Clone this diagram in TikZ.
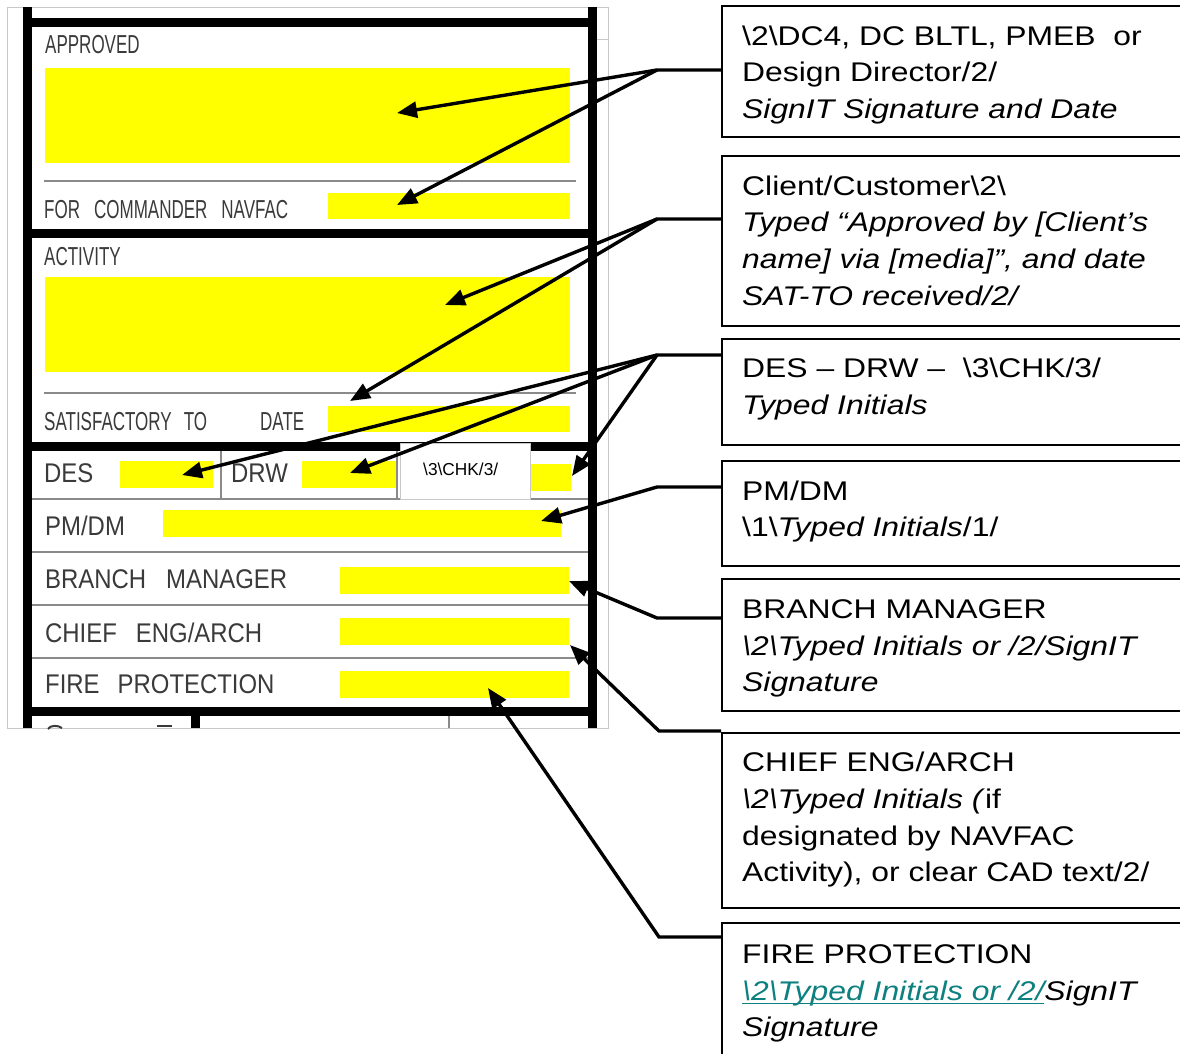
\documentclass[tikz,border=0pt]{standalone}
\usepackage{fontspec}
\setmainfont{Liberation Sans}
\newfontfamily\callfont[FakeStretch=1.18]{Liberation Sans}
\newfontfamily\cadup[FakeStretch=0.654]{Liberation Sans}
\newfontfamily\cadlow[FakeStretch=0.886]{Liberation Sans}
\usetikzlibrary{arrows.meta}
\definecolor{linkteal}{HTML}{0E8080}
\definecolor{cadtext}{HTML}{3A3A3A}
\definecolor{rowgray}{HTML}{8A8A8A}
\definecolor{framegray}{HTML}{C8C8C8}
\definecolor{fieldyellow}{HTML}{FFFF00}
\newcommand\tealul[1]{\leavevmode\setbox0=\hbox{#1}\rlap{\rule[-4.2pt]{\wd0}{1.5pt}}\box0}
\begin{document}
\begin{tikzpicture}[x=1pt,y=-1pt,
  field/.style={fill=fieldyellow, draw=none, inner sep=0pt, outer sep=0pt, anchor=north west},
  callbox/.style={draw=black, line width=2pt, inner sep=0pt, anchor=north west, minimum width=480pt},
  upl/.style={anchor=base west, inner sep=0pt, text=cadtext, font=\cadup\fontsize{26}{30}\selectfont},
  lowl/.style={anchor=base west, inner sep=0pt, text=cadtext, font=\cadlow\fontsize{27}{30}\selectfont},
  ctext/.style={anchor=base west, inner sep=0pt, font=\callfont\fontsize{27}{36.7}\selectfont},
  conn/.style={line width=3.4pt, line join=miter},
  arr/.style={conn, -{Triangle[length=20pt,width=16pt]}},
  thickln/.style={line width=9pt, line cap=butt},
  rowln/.style={line width=2pt, draw=rowgray},
  frameln/.style={line width=1pt, draw=framegray}]
\useasboundingbox (0,0) rectangle (1180,1053);
\fill[white] (0,0) rectangle (1180,1053);
\clip (0,0) rectangle (1180,1053);

% ---------- form frame ----------
\draw[frameln] (7,7) rectangle (608,728);
\draw[frameln] (597,39) -- (608,39);

% yellow fields
\node[field, minimum width=525pt, minimum height=95pt] (fAppr) at (45,68) {};
\node[field, minimum width=242pt, minimum height=26pt] (fCmdr) at (328,193) {};
\node[field, minimum width=525pt, minimum height=95pt] (fAct) at (45,277) {};
\node[field, minimum width=242pt, minimum height=26pt] (fDate) at (328,406) {};
\node[field, minimum width=93pt, minimum height=27pt] (fDes) at (120,461) {};
\node[field, minimum width=94pt, minimum height=27pt] (fDrw) at (302,461) {};
\node[field, minimum width=40pt, minimum height=27pt] (fChk) at (531,464) {};
\node[field, minimum width=398pt, minimum height=27pt] (fPm) at (163,510) {};
\node[field, minimum width=229pt, minimum height=27pt] (fBm) at (340,567) {};
\node[field, minimum width=229pt, minimum height=27pt] (fCe) at (340,618) {};
\node[field, minimum width=229pt, minimum height=27pt] (fFp) at (340,671) {};

% thin row lines
\draw[rowln] (44,181) -- (576,181);
\draw[rowln] (44,393) -- (576,393);
\draw[rowln] (31,499) -- (588,499);
\draw[rowln] (31,552) -- (588,552);
\draw[rowln] (31,605) -- (588,605);
\draw[rowln] (31,658) -- (588,658);
\draw[rowln] (221,446) -- (221,499);
\draw[rowln] (397,446) -- (397,499);
\draw[rowln] (449,711) -- (449,728);

% thick lines
\draw[thickln] (27,7) -- (27,728);
\draw[thickln] (592,7) -- (592,728);
\draw[thickln] (27,22) -- (592,22);
\draw[thickln] (27,233) -- (592,233);
\draw[thickln] (27,446) -- (592,446);
\draw[thickln] (27,711) -- (592,711);
\draw[thickln] (195,711) -- (195,728);

% clipped glyph tops at the bottom edge
\draw[line width=2pt, cadtext] (48,729) .. controls (50,725) and (58,725) .. (62,728);
\draw[line width=2pt, cadtext] (157,726) -- (172,726);

% form labels
\node[upl] (lApp) at (45,53) {APPROVED};
\node[upl] (lCmd) at (44,218) {FOR\hspace{14pt}COMMANDER\hspace{14pt}NAVFAC};
\node[upl] (lAct) at (44,265) {ACTIVITY};
\node[upl] (lSat) at (44,430) {SATISFACTORY\hspace{12pt}TO};
\node[upl] (lDat) at (260,430) {DATE};
\node[lowl] (lDes) at (44,482) {DES};
\node[lowl] (lDrw) at (231,482) {DRW};
\node[lowl] (lPm) at (45,535) {PM/DM};
\node[lowl] (lBm) at (45,588) {BRANCH\hspace{20pt}MANAGER};
\node[lowl] (lCe) at (45,642) {CHIEF\hspace{19pt}ENG/ARCH};
\node[lowl] (lFp) at (45,693) {FIRE\hspace{18pt}PROTECTION};

% white CHK box
\node[fill=white, draw=framegray, line width=0.8pt, inner sep=0pt, anchor=north west,
      minimum width=130pt, minimum height=56pt] (chkbox) at (400,443) {};
\node[anchor=base west, inner sep=0pt, font=\fontsize{17.3}{20}\selectfont] (chktext) at (423,475)
  {\textbackslash 3\textbackslash CHK/3/};

% ---------- callout boxes ----------
\node[callbox, minimum height=130.5pt] (b1) at (721,5) {};
\node[callbox, minimum height=170pt] (b2) at (721,155) {};
\node[callbox, minimum height=106pt] (b3) at (721,338) {};
\node[callbox, minimum height=105pt] (b4) at (721,460) {};
\node[callbox, minimum height=132pt] (b5) at (721,578) {};
\node[callbox, minimum height=175pt] (b6) at (721,732) {};
\node[callbox, minimum height=200pt] (b7) at (721,922) {};

\node[ctext] (c1a) at (742,45) {\textbackslash 2\textbackslash DC4, DC BLTL, PMEB\ \ or};
\node[ctext] (c1b) at (742,81.7) {Design Director/2/};
\node[ctext] (c1c) at (742,118.3) {\itshape SignIT Signature and Date};

\node[ctext] (c2a) at (742,195) {Client/Customer\textbackslash 2\textbackslash};
\node[ctext] (c2b) at (742,231.7) {\itshape Typed “Approved by [Client’s};
\node[ctext] (c2c) at (742,268.3) {\itshape name] via [media]”, and date};
\node[ctext] (c2d) at (742,305) {\itshape SAT-TO received/2/};

\node[ctext] (c3a) at (742,377.7) {DES – DRW –\ \ \textbackslash 3\textbackslash CHK/3/};
\node[ctext] (c3b) at (742,414.3) {\itshape Typed Initials};

\node[ctext] (c4a) at (742,500) {PM/DM};
\node[ctext] (c4b) at (742,536.7) {\textbackslash 1\textbackslash\textit{Typed Initials}/1/};

\node[ctext] (c5a) at (742,618.3) {BRANCH MANAGER};
\node[ctext] (c5b) at (742,655) {\itshape \textbackslash 2\textbackslash Typed Initials or /2/SignIT};
\node[ctext] (c5c) at (742,691.7) {\itshape Signature};

\node[ctext] (c6a) at (742,771.7) {CHIEF ENG/ARCH};
\node[ctext] (c6b) at (742,808.3) {\textit{\textbackslash 2\textbackslash Typed Initials (}if};
\node[ctext] (c6c) at (742,845) {designated by NAVFAC};
\node[ctext] (c6d) at (742,881.7) {Activity), or clear CAD text/2/};

\node[ctext] (c7a) at (742,963.3) {FIRE PROTECTION};
\node[ctext] (c7b) at (742,1000) {\itshape{\color{linkteal}\tealul{\textbackslash 2\textbackslash Typed Initials or /2/}}SignIT};
\node[ctext] (c7c) at (742,1036.7) {\itshape Signature};

% ---------- connectors ----------
\coordinate (j1) at (657,70);
\coordinate (j2) at (657,219);
\coordinate (j3) at (657,355);
\coordinate (j4) at (657,487);
\coordinate (j5) at (657,618);
\coordinate (j6) at (659,731);
\coordinate (j7) at (659,937);

\coordinate (t1a) at (397,113);
\coordinate (t1b) at (397,205);
\coordinate (t2a) at (445,305);
\coordinate (t2b) at (350,401);
\coordinate (t3a) at (182,475);
\coordinate (t3b) at (350,473);
\coordinate (t3c) at (572,476);
\coordinate (t4) at (541,521);
\coordinate (t5) at (569,581);
\coordinate (t6) at (570,645);
\coordinate (t7) at (488,688);

\draw[arr] (b1.west |- j1) -- (j1) -- (t1a);
\draw[arr] (j1) -- (t1b);
\draw[arr] (b2.west |- j2) -- (j2) -- (t2a);
\draw[arr] (j2) -- (t2b);
\draw[arr] (b3.west |- j3) -- (j3) -- (t3a);
\draw[arr] (j3) -- (t3b);
\draw[arr] (j3) -- (t3c);
\draw[arr] (b4.west |- j4) -- (j4) -- (t4);
\draw[arr] (b5.west |- j5) -- (j5) -- (t5);
\draw[arr] (b6.west |- j6) -- (j6) -- (t6);
\draw[arr] (b7.west |- j7) -- (j7) -- (t7);
\end{tikzpicture}
\end{document}
